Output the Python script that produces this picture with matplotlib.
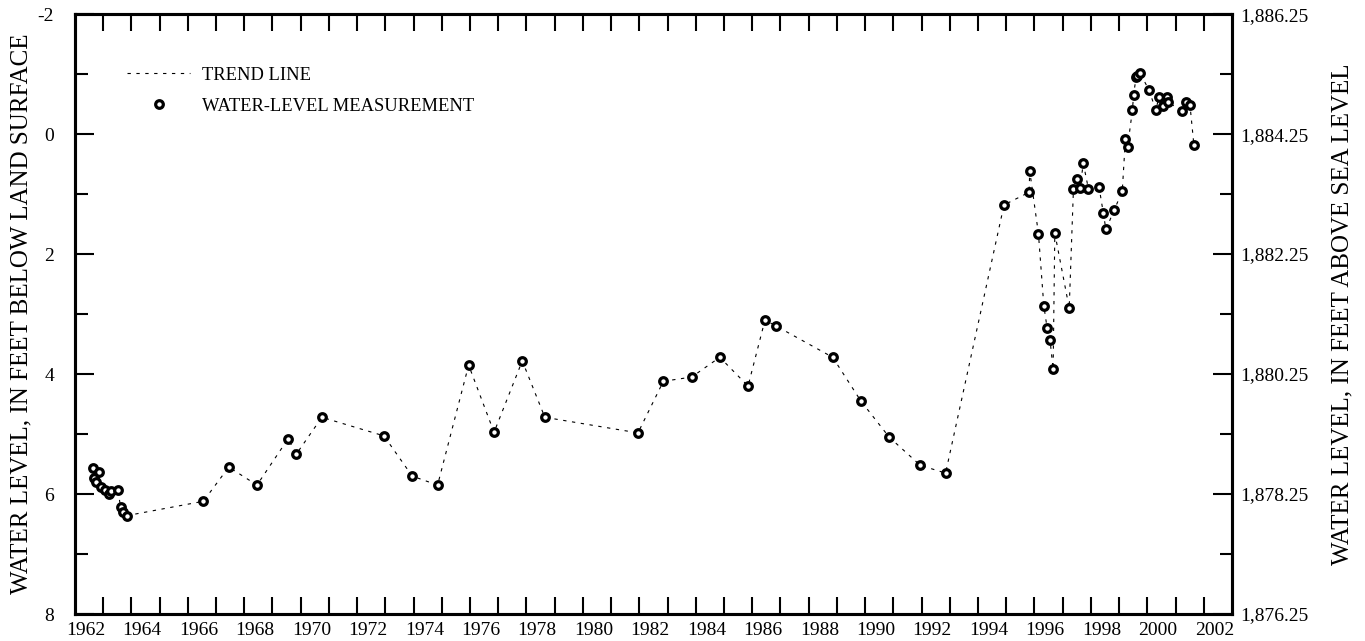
import matplotlib
matplotlib.use("Agg")
import matplotlib.pyplot as plt
from matplotlib.ticker import FixedLocator, NullFormatter

# decimal year of each measurement and depth to water (feet below land surface)
years = [1962.65, 1962.66, 1962.73, 1962.85, 1962.93, 1963.05, 1963.20, 1963.28,
         1963.52, 1963.62, 1963.71, 1963.83,
         1966.55, 1967.45, 1968.45, 1969.55, 1969.85, 1970.75, 1972.95, 1973.95, 1974.85,
         1975.95, 1976.85, 1977.85, 1978.65, 1981.95, 1982.85, 1983.85, 1984.85, 1985.85,
         1986.45, 1986.85, 1988.85, 1989.85, 1990.85, 1991.95, 1992.85,
         1994.92, 1995.81, 1995.83, 1996.14, 1996.33, 1996.45, 1996.55, 1996.66,
         1996.72, 1997.23, 1997.38, 1997.50, 1997.61, 1997.73, 1997.91, 1998.29,
         1998.44, 1998.53, 1998.83, 1999.11, 1999.22, 1999.30, 1999.47, 1999.51,
         1999.60, 1999.64, 1999.74, 2000.06, 2000.30, 2000.41, 2000.54, 2000.69,
         2000.72, 2001.23, 2001.37, 2001.51, 2001.65]
depth = [5.56, 5.73, 5.80, 5.64, 5.89, 5.93, 6.00, 5.95,
         5.93, 6.22, 6.30, 6.36,
         6.12, 5.55, 5.85, 5.08, 5.33, 4.72, 5.03, 5.70, 5.85,
         3.85, 4.97, 3.78, 4.72, 4.98, 4.12, 4.05, 3.72, 4.20,
         3.10, 3.20, 3.72, 4.45, 5.05, 5.52, 5.65,
         1.18, 0.97, 0.61, 1.66, 2.86, 3.24, 3.43, 3.92,
         1.65, 2.90, 0.92, 0.75, 0.90, 0.49, 0.91, 0.89,
         1.32, 1.59, 1.26, 0.95, 0.09, 0.21, -0.40, -0.65,
         -0.95, -0.97, -1.02, -0.73, -0.40, -0.62, -0.47, -0.61,
         -0.54, -0.38, -0.54, -0.48, 0.19]

year_labels = [str(y) for y in range(1962, 2003, 2)]
left_ticks = [-2, 0, 2, 4, 6, 8]
right_labels = ["1,886.25", "1,884.25", "1,882.25", "1,880.25", "1,878.25", "1,876.25"]

plt.rcParams["font.family"] = ["Liberation Serif", "DejaVu Serif"]
plt.rcParams["axes.unicode_minus"] = False

fig = plt.figure(figsize=(13.65, 6.41), dpi=100)
ax = fig.add_axes([0.0549, 0.042, 0.8477, 0.936])

ax.plot(years, depth, linestyle=(0, (3, 5)), color="black", linewidth=0.8,
        label="TREND LINE")
ax.plot(years, depth, linestyle="none", marker="o", markersize=5.5,
        markerfacecolor="white", markeredgecolor="black", markeredgewidth=2.3,
        label="WATER-LEVEL MEASUREMENT")

ax.set_xlim(1962, 2003)
ax.set_ylim(8, -2)

# yearly ticks inside the box, labels centred on the even years
ax.xaxis.set_major_locator(FixedLocator(range(1963, 2003)))
ax.xaxis.set_major_formatter(NullFormatter())
ax.xaxis.set_minor_locator(FixedLocator([y + 0.38 for y in range(1962, 2003, 2)]))
ax.set_xticklabels(year_labels, minor=True)
ax.tick_params(axis="x", which="major", direction="in", length=12, width=1.5,
               top=True, bottom=True)
ax.tick_params(axis="x", which="minor", length=0, pad=6, labelsize=14)

ax.set_yticks(left_ticks)
ax.set_yticks([-1, 1, 3, 5, 7], minor=True)
ax.tick_params(axis="y", which="major", direction="in", length=13.5, width=1.5,
               labelsize=14, pad=15)
ax.tick_params(axis="y", which="minor", direction="in", length=9, width=1.5)
ax.set_ylabel("WATER LEVEL, IN FEET BELOW LAND SURFACE", fontsize=18, labelpad=4)

ax2 = ax.twinx()
ax2.set_ylim(8, -2)
ax2.set_yticks(left_ticks)
ax2.set_yticklabels(right_labels)
ax2.set_yticks([-1, 1, 3, 5, 7], minor=True)
ax2.tick_params(axis="y", which="major", direction="in", length=13.5, width=1.5,
                labelsize=14, pad=6)
ax2.tick_params(axis="y", which="minor", direction="in", length=9, width=1.5)
ax2.set_ylabel("WATER LEVEL, IN FEET ABOVE SEA LEVEL", fontsize=18,
               rotation=90, labelpad=16)

for a in (ax, ax2):
    for s in a.spines.values():
        s.set_linewidth(2.2)

ax.legend(loc="upper left", bbox_to_anchor=(0.031, 0.94), frameon=False,
          fontsize=13.3, handlelength=3.4, handletextpad=0.65, labelspacing=0.75)

fig.savefig("out.png", dpi=100)
